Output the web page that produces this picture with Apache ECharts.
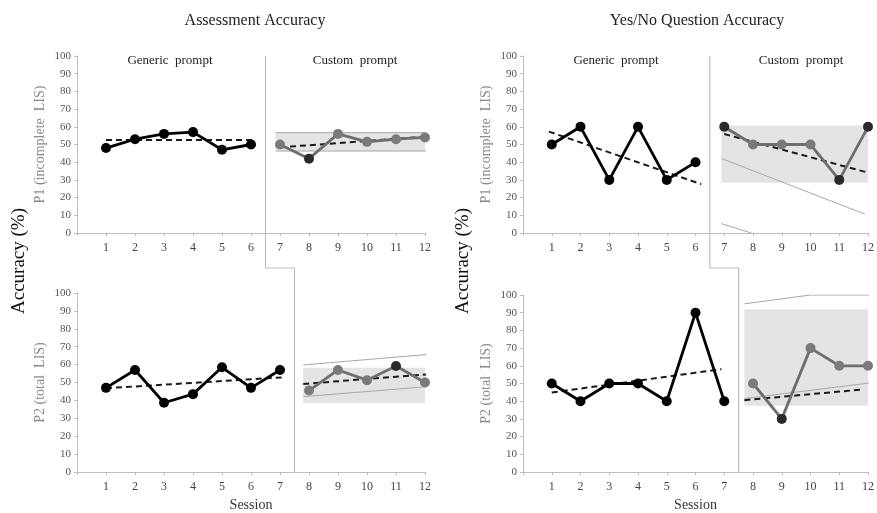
<!DOCTYPE html>
<html>
<head>
<meta charset="utf-8">
<script src="https://cdn.jsdelivr.net/npm/echarts@6/dist/echarts.min.js"></script>
<style>
  html, body { margin: 0; padding: 0; background: #fff; }
  #chart { width: 877px; height: 513px; }
</style>
</head>
<body>
<div id="chart"></div>
<script>
// sessions per phase
const p1GenericSessions = [1, 2, 3, 4, 5, 6]
const p1CustomSessions = [7, 8, 9, 10, 11, 12]
const p2GenericSessions = [1, 2, 3, 4, 5, 6, 7]
const p2CustomSessions = [8, 9, 10, 11, 12]

// Assessment accuracy
const assessP1Generic = [48, 53, 56, 57, 47, 50]
const assessP1Custom = [50, 42, 56, 51.5, 53, 54]
const assessP2Generic = [47, 57, 38.7, 43.5, 58.5, 47, 57]
const assessP2Custom = [45.5, 57, 51.3, 59.2, 50]

// Yes/No question accuracy
const yesnoP1Generic = [50, 60, 30, 60, 30, 40]
const yesnoP1Custom = [60, 50, 50, 50, 30, 60]
const yesnoP2Generic = [50, 40, 50, 50, 40, 90, 40]
const yesnoP2Custom = [50, 30, 70, 60, 60]

// trend lines [[x, y], [x, y]]
const assessP1GenericTrend = [[1, 52.5], [6.1, 52.5]]
const assessP1CustomTrend = [[7, 48.4], [12, 54.4]]
const assessP2GenericTrend = [[1, 46.8], [7.1, 52.9]]
const assessP2CustomTrend = [[7.8, 49.2], [12.1, 54.6]]
const yesnoP1GenericTrend = [[0.9, 57.3], [6.2, 27.6]]
const yesnoP1CustomTrend = [[7, 55.9], [12, 34.1]]
const yesnoP2GenericTrend = [[1, 44.9], [6.9, 58.1]]
const yesnoP2CustomTrend = [[7.7, 40.6], [11.8, 46.6]]

// shaded ranges [xStart, xEnd, low, high]
const assessP1Band = [6.85, 12.2, 46.3, 56.7]
const assessP2Band = [7.8, 12.2, 38.4, 58.3]
const yesnoP1Band = [6.9, 12.2, 28.4, 60.8]
const yesnoP2Band = [7.7, 12.2, 37.4, 91.9]

// thin grey envelope lines
const assessP1Envelope = [[[6.85, 56.7], [12.2, 56.7]], [[6.85, 46.3], [12.2, 46.3]]]
const assessP2Envelope = [[[7.8, 59.8], [12.1, 65.7]], [[7.8, 42.1], [12.1, 47.7]]]
const yesnoP1Envelope = [[[6.9, 42.1], [11.9, 10.6]], [[6.9, 5.3], [7.94, 0]]]
const yesnoP2Envelope = [[[7.7, 95], [10, 100], [12.2, 100]], [[7.7, 41.5], [12.2, 50.6]]]

// custom-phase points drawn in a darker tone
const assessP1Dark = [8]
const assessP2Dark = [11]
const yesnoP1Dark = [7, 11, 12]
const yesnoP2Dark = [9]

// phase change positions (between sessions)
const p1PhaseChange = 6.5
const p2PhaseChange = 7.5

const yTicks = [0, 10, 20, 30, 40, 50, 60, 70, 80, 90, 100]

const FONT = 'Liberation Serif'
const chart = echarts.init(document.getElementById('chart'))

const zip = (xs, ys) => xs.map((x, i) => [x, ys[i]])

const grids = [
  { left: 77, top: 56, width: 348, height: 177 },
  { left: 77, top: 293, width: 348, height: 179 },
  { left: 523, top: 56, width: 348, height: 177 },
  { left: 523, top: 295, width: 348, height: 177 }
]

const xAxes = grids.map((g, i) => ({
  type: 'value',
  gridIndex: i,
  min: 0,
  max: 12,
  interval: 1,
  name: i % 2 === 1 ? 'Session' : '',
  nameLocation: 'middle',
  nameGap: 26,
  nameTextStyle: { fontFamily: FONT, fontSize: 14, color: '#333' },
  axisLine: { lineStyle: { color: '#bdbdbd', width: 1 } },
  axisTick: { inside: false, length: 3, lineStyle: { color: '#bdbdbd' } },
  axisLabel: {
    fontFamily: FONT, fontSize: 12, color: '#444', margin: 9,
    formatter: v => (v === 0 ? '' : v)
  },
  splitLine: { show: false }
}))

const yAxes = grids.map((g, i) => ({
  type: 'value',
  gridIndex: i,
  min: yTicks[0],
  max: yTicks[yTicks.length - 1],
  interval: 10,
  name: i % 2 === 0 ? 'P1 (incomplete  LIS)' : 'P2 (total  LIS)',
  nameLocation: 'middle',
  nameGap: 30,
  nameTextStyle: { fontFamily: FONT, fontSize: 14, color: '#8a8a8a' },
  axisLine: { show: true, lineStyle: { color: '#bdbdbd', width: 1 } },
  axisTick: { show: true, length: 3, lineStyle: { color: '#bdbdbd' } },
  axisLabel: { fontFamily: FONT, fontSize: 11, color: '#555', margin: 6 },
  splitLine: { show: false }
}))

function panel(gi, genSessions, genVals, cusSessions, cusVals, genTrend, cusTrend, band, envelope, dark) {
  const list = []
  list.push({
    type: 'line', xAxisIndex: gi, yAxisIndex: gi, data: envelope[0],
    symbol: 'none', lineStyle: { color: '#a8a8a8', width: 1 }, z: 1, silent: true,
    markArea: {
      silent: true,
      itemStyle: { color: '#e4e4e4' },
      data: [[{ coord: [band[0], band[3]] }, { coord: [band[1], band[2]] }]]
    }
  })
  list.push({
    type: 'line', xAxisIndex: gi, yAxisIndex: gi, data: envelope[1],
    symbol: 'none', lineStyle: { color: '#a8a8a8', width: 1 }, z: 1, silent: true
  })
  list.push({
    type: 'line', xAxisIndex: gi, yAxisIndex: gi, data: genTrend,
    symbol: 'none', lineStyle: { color: '#1a1a1a', width: 2, type: [6, 4] }, z: 2
  })
  list.push({
    type: 'line', xAxisIndex: gi, yAxisIndex: gi, data: cusTrend,
    symbol: 'none', lineStyle: { color: '#1a1a1a', width: 2, type: [6, 4] }, z: 2
  })
  list.push({
    type: 'line', xAxisIndex: gi, yAxisIndex: gi, data: zip(genSessions, genVals),
    symbol: 'circle', symbolSize: 10,
    lineStyle: { color: '#000', width: 2.8 },
    itemStyle: { color: '#000' }, z: 3
  })
  list.push({
    type: 'line', xAxisIndex: gi, yAxisIndex: gi,
    data: zip(cusSessions, cusVals).map(p => ({
      value: p,
      itemStyle: { color: dark.includes(p[0]) ? '#2a2a2a' : '#7a7a7a' }
    })),
    symbol: 'circle', symbolSize: 10,
    lineStyle: { color: '#6e6e6e', width: 2.8 },
    itemStyle: { color: '#7a7a7a' }, z: 3
  })
  return list
}

const series = [].concat(
  panel(0, p1GenericSessions, assessP1Generic, p1CustomSessions, assessP1Custom,
    assessP1GenericTrend, assessP1CustomTrend, assessP1Band, assessP1Envelope, assessP1Dark),
  panel(1, p2GenericSessions, assessP2Generic, p2CustomSessions, assessP2Custom,
    assessP2GenericTrend, assessP2CustomTrend, assessP2Band, assessP2Envelope, assessP2Dark),
  panel(2, p1GenericSessions, yesnoP1Generic, p1CustomSessions, yesnoP1Custom,
    yesnoP1GenericTrend, yesnoP1CustomTrend, yesnoP1Band, yesnoP1Envelope, yesnoP1Dark),
  panel(3, p2GenericSessions, yesnoP2Generic, p2CustomSessions, yesnoP2Custom,
    yesnoP2GenericTrend, yesnoP2CustomTrend, yesnoP2Band, yesnoP2Envelope, yesnoP2Dark)
)

const textStyle = (size, color) => ({ fontFamily: FONT, fontSize: size, color: color, fontWeight: 'normal' })

chart.setOption({
  animation: false,
  title: [
    { text: 'Assessment Accuracy', left: 250, top: 8, textAlign: 'center', textStyle: textStyle(16, '#222') },
    { text: 'Yes/No Question Accuracy', left: 692, top: 8, textAlign: 'center', textStyle: textStyle(16, '#222') },
    { text: 'Generic  prompt', left: 165, top: 49, textAlign: 'center', textStyle: textStyle(13, '#222') },
    { text: 'Custom  prompt', left: 350, top: 49, textAlign: 'center', textStyle: textStyle(13, '#222') },
    { text: 'Generic  prompt', left: 611, top: 49, textAlign: 'center', textStyle: textStyle(13, '#222') },
    { text: 'Custom  prompt', left: 796, top: 49, textAlign: 'center', textStyle: textStyle(13, '#222') }
  ],
  grid: grids,
  xAxis: xAxes,
  yAxis: yAxes,
  series: series
})

// phase-change lines and rotated main labels, placed from the axes' own scales
function phaseLine(topGrid, botGrid) {
  const a = chart.convertToPixel({ gridIndex: topGrid }, [p1PhaseChange, 100])
  const b = chart.convertToPixel({ gridIndex: topGrid }, [p1PhaseChange, 0])
  const c = chart.convertToPixel({ gridIndex: botGrid }, [p2PhaseChange, 100])
  const d = chart.convertToPixel({ gridIndex: botGrid }, [p2PhaseChange, 0])
  const midY = b[1] + 35
  return {
    type: 'polyline',
    silent: true,
    shape: { points: [a, [a[0], midY], [c[0], midY], d] },
    style: { stroke: '#bdbdbd', lineWidth: 1.2, fill: null }
  }
}

function sideLabel(x, y) {
  return {
    type: 'text', x: x, y: y, rotation: Math.PI / 2,
    style: {
      text: 'Accuracy (%)', fontFamily: FONT, fontSize: 19, fill: '#111',
      align: 'center', verticalAlign: 'middle'
    }
  }
}

chart.setOption({
  graphic: [
    phaseLine(0, 1),
    phaseLine(2, 3),
    sideLabel(19, 261),
    sideLabel(463, 261)
  ]
})
</script>
</body>
</html>
